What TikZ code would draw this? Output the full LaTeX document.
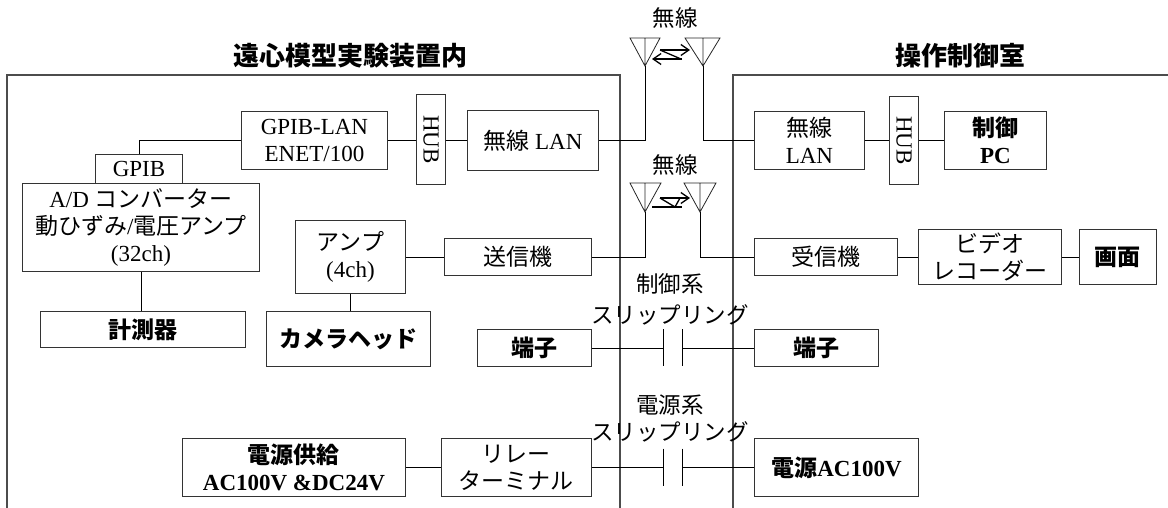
\documentclass[tikz,border=0pt]{standalone}
\usepackage{fontspec}
\setmainfont{Liberation Serif}
\newfontfamily\jp{Noto Sans CJK JP}
\usetikzlibrary{arrows, arrows.meta}
\tikzset{b/.style={draw=black!80, line width=0.9pt, anchor=north west, inner sep=0pt, align=center, font=\fontsize{23}{27}\selectfont},
        bj/.style={b, font=\fontsize{23}{27}\selectfont\bfseries\jp},
        t/.style={inner sep=0pt, align=center, font=\fontsize{23}{27}\selectfont},
        tj/.style={t, font=\fontsize{22.5}{27}\selectfont\jp},
        w/.style={draw=black!70, line width=1.1pt},
        c/.style={draw=black, line width=0.9pt},
        a/.style={draw=black!85, line width=0.8pt},
        zig/.style={draw=black, line width=1.3pt, >={Straight Barb[length=8pt, width=11pt]}}}

\begin{document}
\begin{tikzpicture}[x=1pt, y=-1pt]
    \useasboundingbox (0,0) rectangle (1168,508);

    % walls of the two rooms
    \draw[w] (7,508) -- (7,75) -- (620,75) -- (620,508);
    \draw[w] (1168,75) -- (733,75) -- (733,508);

    % titles
    \node[t, font=\fontsize{26}{30}\selectfont\bfseries\jp] (title1) at (350,56) {遠心模型実験装置内};
    \node[t, font=\fontsize{26}{30}\selectfont\bfseries\jp] (title2) at (960,56) {操作制御室};

    % left side
    \node[b, minimum width=87, minimum height=29] (gpib) at (95,154) {GPIB};
    \node[b, minimum width=237, minimum height=88] (ad) at (22,183) {A/D {\jp コンバーター}\\{\jp 動ひずみ}/{\jp 電圧アンプ}\\(32ch)};
    \node[bj, minimum width=205, minimum height=36] (meas) at (40,311) {計測器};
    \node[b, minimum width=146, minimum height=58] (enet) at (241,111) {GPIB-LAN\\ENET/100};
    \node[b, minimum width=29, minimum height=90] (hub1) at (416,94) {};
    \node[t, rotate=-90] (hub1t) at (hub1.center) {HUB};
    \node[b, minimum width=131, minimum height=60] (lan1) at (467,110) {{\jp 無線} LAN};
    \node[b, minimum width=110, minimum height=73] (amp) at (295,220) {{\jp アンプ}\\(4ch)};
    \node[b, minimum width=147, minimum height=37] (tx) at (444,238) {\jp 送信機};
    \node[bj, minimum width=164, minimum height=55] (cam) at (266,311) {カメラヘッド};
    \node[bj, minimum width=114, minimum height=37] (term1) at (477,329) {端子};
    \node[b, minimum width=223, minimum height=58, font=\fontsize{23}{27}\selectfont\bfseries] (pow1) at (182,438) {{\jp 電源供給}\\AC100V \&DC24V};
    \node[b, minimum width=150, minimum height=58] (relay) at (441,438) {{\jp リレー}\\{\jp ターミナル}};

    % right side
    \node[b, minimum width=110, minimum height=58] (lan2) at (754,111) {{\jp 無線}\\LAN};
    \node[b, minimum width=29, minimum height=88] (hub2) at (889,96) {};
    \node[t, rotate=-90] (hub2t) at (hub2.center) {HUB};
    \node[b, minimum width=102, minimum height=58, font=\fontsize{23}{27}\selectfont\bfseries] (pc) at (944,111) {{\jp 制御}\\PC};
    \node[b, minimum width=143, minimum height=37] (rx) at (754,238) {\jp 受信機};
    \node[b, minimum width=143, minimum height=55] (rec) at (918,229) {{\jp ビデオ}\\{\jp レコーダー}};
    \node[bj, minimum width=77, minimum height=55] (scr) at (1079,229) {画面};
    \node[bj, minimum width=124, minimum height=37] (term2) at (754,329) {端子};
    \node[b, minimum width=164, minimum height=58, font=\fontsize{23}{27}\selectfont\bfseries] (pow2) at (754,438) {{\jp 電源}AC100V};

    % labels in the middle
    \node[tj] (air1) at (675,18) {無線};
    \node[tj] (air2) at (675,165) {無線};
    \node[tj] (sys1) at (670,284) {制御系};
    \node[tj] (ring1) at (670,315) {スリップリング};
    \node[tj] (sys2) at (670,405) {電源系};
    \node[tj] (ring2) at (670,432) {スリップリング};

    % antennas
    \coordinate (ant1) at (645,66);
    \coordinate (ant2) at (703,66);
    \coordinate (ant3) at (645,212);
    \coordinate (ant4) at (700,212);
    \draw[a] (ant1) -- (630,38) -- (660,38) -- cycle (ant1) -- (645,38);
    \draw[a] (ant2) -- (685,38) -- (720,38) -- cycle (ant2) -- (703,38);
    \draw[a] (ant3) -- (630,183) -- (661,183) -- cycle (ant3) -- (645,183);
    \draw[a] (ant4) -- (684,183) -- (716,183) -- cycle (ant4) -- (700,183);

    % radio links
    \draw[zig, ->] (660,50) -- (690,50);
    \draw[zig, ->] (682,59) -- (652,59);
    \draw[zig] (660,50) -- (681,59);
    \draw[zig, ->] (660,198) -- (690,198);
    \draw[zig] (652,207) -- (682,207);
    \draw[zig] (660,198) -- (675,207) -- (680,198);

    % slip ring plates
    \coordinate (p1) at (663,347.5);
    \coordinate (p2) at (682,347.5);
    \coordinate (p3) at (663,467);
    \coordinate (p4) at (682,467);
    \foreach \p in {p1,p2}
      \draw[c] ([yshift=18.5]\p) -- ([yshift=-18.5]\p);
    \foreach \p in {p3,p4}
      \draw[c] ([yshift=18.5]\p) -- ([yshift=-18.5]\p);

    % connections
    \draw[c] (gpib.north) |- (enet.west);
    \draw[c] (ad.south) -- (ad.south |- meas.north);
    \draw[c] (enet.east) -- (enet.east -| hub1.west);
    \draw[c] (hub1.east |- lan1.west) -- (lan1.west);
    \draw[c] (lan1.east) -| (ant1);
    \draw[c] (ant2) |- (lan2.west);
    \draw[c] (lan2.east) -- (lan2.east -| hub2.west);
    \draw[c] (hub2.east |- pc.west) -- (pc.west);
    \draw[c] (amp.east |- tx.west) -- (tx.west);
    \draw[c] (amp.south) -- (amp.south |- cam.north);
    \draw[c] (tx.east) -| (ant3);
    \draw[c] (ant4) |- (rx.west);
    \draw[c] (rx.east) -- (rx.east -| rec.west);
    \draw[c] (rec.east) -- (scr.west);
    \draw[c] (term1.east) -- (term1.east -| p1);
    \draw[c] (term2.west -| p2) -- (term2.west);
    \draw[c] (pow1.east) -- (relay.west);
    \draw[c] (relay.east) -- (relay.east -| p3);
    \draw[c] (pow2.west -| p4) -- (pow2.west);
\end{tikzpicture}
\end{document}
